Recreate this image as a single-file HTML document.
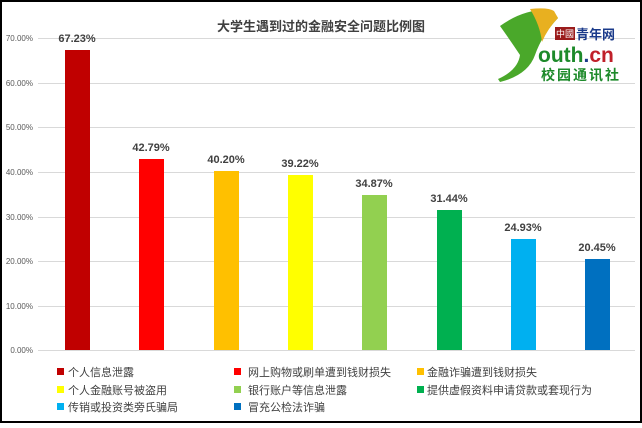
<!DOCTYPE html><html><head><meta charset="utf-8"><style>
body{margin:0;width:642px;height:423px;overflow:hidden;background:#fff;font-family:"Liberation Sans","Noto Sans CJK SC",sans-serif}
</style></head><body>
<svg width="642" height="423" xmlns="http://www.w3.org/2000/svg" font-family="Liberation Sans, Noto Sans CJK SC, sans-serif">
<rect x="1" y="1" width="640" height="421" fill="#fff" stroke="#000" stroke-width="2"/>
<g stroke="#d9d9d9" stroke-width="1">
<line x1="38" x2="635" y1="38.5" y2="38.5"/><line x1="38" x2="635" y1="83.5" y2="83.5"/><line x1="38" x2="635" y1="127.5" y2="127.5"/><line x1="38" x2="635" y1="172.5" y2="172.5"/><line x1="38" x2="635" y1="217.5" y2="217.5"/><line x1="38" x2="635" y1="261.5" y2="261.5"/><line x1="38" x2="635" y1="306.5" y2="306.5"/><line x1="38" x2="635" y1="350.5" y2="350.5"/>
</g>
<g font-size="8" fill="#595959" text-anchor="end">
<text x="33" y="41">70.00%</text><text x="33" y="86">60.00%</text><text x="33" y="130">50.00%</text><text x="33" y="175">40.00%</text><text x="33" y="220">30.00%</text><text x="33" y="264">20.00%</text><text x="33" y="309">10.00%</text><text x="33" y="353">0.00%</text>
</g>
<text x="321" y="31" font-size="13" font-weight="bold" fill="#404040" text-anchor="middle">大学生遇到过的金融安全问题比例图</text>
<g>
<rect x="65" y="50" width="25" height="300" fill="#c00000"/>
<rect x="139" y="159" width="25" height="191" fill="#ff0000"/>
<rect x="214" y="171" width="25" height="179" fill="#ffc000"/>
<rect x="288" y="175" width="25" height="175" fill="#ffff00"/>
<rect x="362" y="195" width="25" height="155" fill="#92d050"/>
<rect x="437" y="210" width="25" height="140" fill="#00b050"/>
<rect x="511" y="239" width="25" height="111" fill="#00b0f0"/>
<rect x="585" y="259" width="25" height="91" fill="#0070c0"/>
</g>
<g font-size="11" font-weight="bold" fill="#404040" text-anchor="middle">
<text x="77" y="42">67.23%</text><text x="151" y="151">42.79%</text><text x="226" y="163">40.20%</text><text x="300" y="167">39.22%</text><text x="374" y="187">34.87%</text><text x="449" y="202">31.44%</text><text x="523" y="231">24.93%</text><text x="597" y="251">20.45%</text>
</g>
<g font-size="11" fill="#404040">
<rect x="57" y="368" width="7" height="7" fill="#c00000"/><text x="68" y="376">个人信息泄露</text>
<rect x="234" y="368" width="7" height="7" fill="#ff0000"/><text x="248" y="376">网上购物或刷单遭到钱财损失</text>
<rect x="417" y="368" width="7" height="7" fill="#ffc000"/><text x="427" y="376">金融诈骗遭到钱财损失</text>
<rect x="57" y="386" width="7" height="7" fill="#ffff00"/><text x="68" y="394">个人金融账号被盗用</text>
<rect x="234" y="386" width="7" height="7" fill="#92d050"/><text x="248" y="394">银行账户等信息泄露</text>
<rect x="417" y="386" width="7" height="7" fill="#00b050"/><text x="427" y="394">提供虚假资料申请贷款或套现行为</text>
<rect x="57" y="403" width="7" height="7" fill="#00b0f0"/><text x="68" y="411">传销或投资类旁氏骗局</text>
<rect x="234" y="403" width="7" height="7" fill="#0070c0"/><text x="248" y="411">冒充公检法诈骗</text>
</g>
<path d="M500 26 Q525 8 552 10 L558 18 Q542 35 535 55 Q528 75 500 82 L498 79 Q518 70 520 55 Q510 40 500 26Z" fill="#4aa82a"/>
<path d="M530 9 Q548 7 554 11 L558 18 Q548 28 542 42 Q540 25 530 9Z" fill="#e8b020"/>
<rect x="555" y="27" width="20" height="13" fill="#9b1c1c"/>
<text x="556" y="37" font-size="9" fill="#fff">中國</text>
<text x="576" y="39" font-size="13" font-weight="bold" fill="#1a3a8a">青年网</text>
<text x="538" y="62" font-size="21" font-weight="bold" fill="#1d8a2a">outh<tspan fill="#1a3a8a">.</tspan><tspan fill="#c0202a">cn</tspan></text>
<text x="541" y="80" font-size="14" font-weight="bold" fill="#1d8a2a" letter-spacing="2">校园通讯社</text>
</svg>
</body></html>
